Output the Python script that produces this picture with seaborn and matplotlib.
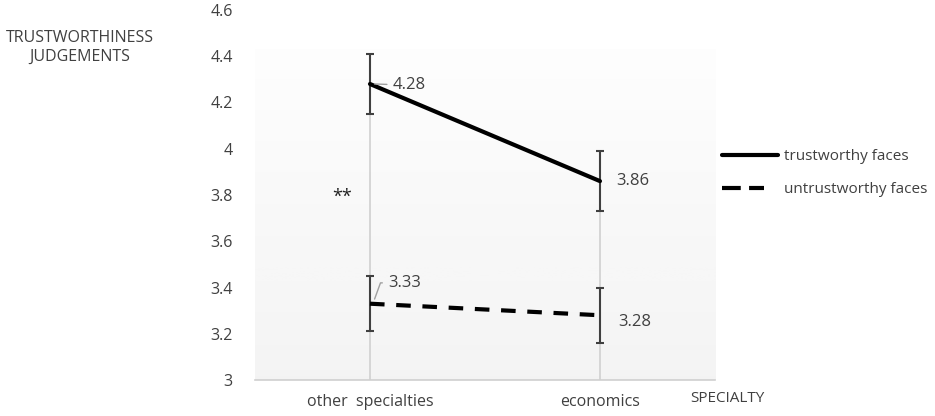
import numpy as np
import pandas as pd
import seaborn as sns
import matplotlib.pyplot as plt

# data
specialties = ['other  specialties', 'economics']
trustworthy = [4.28, 3.86]
untrustworthy = [3.33, 3.28]
trust_err = [0.13, 0.13]
untrust_err = [0.12, 0.12]
series_names = ['trustworthy faces', 'untrustworthy faces']
yticks = [3, 3.2, 3.4, 3.6, 3.8, 4, 4.2, 4.4, 4.6]
ytick_labels = ['3', '3.2', '3.4', '3.6', '3.8', '4', '4.2', '4.4', '4.6']

sns.set_style('white')
plt.rcParams['font.family'] = ['Open Sans', 'DejaVu Sans']

df = pd.DataFrame({
    'x': [0, 1, 0, 1],
    'y': trustworthy + untrustworthy,
    'err': trust_err + untrust_err,
    'face': [series_names[0]] * 2 + [series_names[1]] * 2,
})

fig = plt.figure(figsize=(9.35, 4.16), dpi=100)
ax = fig.add_axes([0.2727, 0.0865, 0.492, 0.8895])

# background gradient, very light on top to light gray at bottom
grad = np.linspace(0, 1, 256).reshape(-1, 1)
ax.imshow(grad, extent=[-0.5, 1.5, 3, 4.43], aspect='auto', cmap='Greys',
          vmin=-0.15, vmax=12, origin='upper', zorder=0)

# drop lines from the top series down to the axis
ax.vlines([0, 1], 3, trustworthy, color='#d0d0d0', lw=1.2, zorder=1)

sns.lineplot(data=df, x='x', y='y', style='face', color='black', lw=3,
             dashes={series_names[0]: '', series_names[1]: (3.5, 2.8)},
             legend=False, ax=ax, zorder=3)

for name, grp in df.groupby('face'):
    ax.errorbar(grp['x'], grp['y'], yerr=grp['err'], fmt='none',
                ecolor='#404040', elinewidth=1.5, capsize=3, capthick=1.5, zorder=2)

lab = dict(fontsize=12, color='#404040', va='center')
ax.annotate(f'{trustworthy[0]:.2f}', xy=(0.02, trustworthy[0]), xytext=(0.1, trustworthy[0] - 0.005),
            arrowprops=dict(arrowstyle='-', color='#a0a0a0', lw=1, shrinkA=2, shrinkB=0), **lab)
ax.text(1.07, trustworthy[1], f'{trustworthy[1]:.2f}', **lab)
ax.annotate(f'{untrustworthy[0]:.2f}', xy=(0.02, untrustworthy[0] + 0.02), xytext=(0.08, untrustworthy[0] + 0.09),
            arrowprops=dict(arrowstyle='-', color='#a0a0a0', lw=1, shrinkA=2, shrinkB=0,
                            connectionstyle='angle,angleA=0,angleB=70,rad=0'), **lab)
ax.text(1.08, untrustworthy[1] - 0.03, f'{untrustworthy[1]:.2f}', **lab)
ax.text(-0.12, 3.79, '**', fontsize=13, color='#202020', ha='center', va='center')

ax.set_xlim(-0.5, 1.5)
ax.set_ylim(3, 4.6)
ax.set_yticks(yticks)
ax.set_yticklabels(ytick_labels)
ax.set_xticks([0, 1])
ax.set_xticklabels(specialties)
ax.tick_params(axis='both', length=0, labelsize=11.5, labelcolor='#404040')
ax.tick_params(axis='y', pad=16)
ax.tick_params(axis='x', pad=10)
ax.set_xlabel('')
ax.set_ylabel('')
for s in ['top', 'right', 'left']:
    ax.spines[s].set_visible(False)
ax.spines['bottom'].set_color('#d0d0d0')
ax.spines['bottom'].set_linewidth(1.2)

fig.text(0.085, 0.886, 'TRUSTWORTHINESS\nJUDGEMENTS', ha='center', va='center',
         fontsize=11.5, color='#404040', linespacing=1.2)
fig.text(0.738, 0.043, 'SPECIALTY', ha='left', va='center', fontsize=11, color='#404040')

# legend drawn at right
fig.lines.append(plt.Line2D([0.772, 0.832], [1 - 155 / 416] * 2, transform=fig.transFigure,
                            color='black', lw=3))
fig.lines.append(plt.Line2D([0.772, 0.817], [1 - 188 / 416] * 2, transform=fig.transFigure,
                            color='black', lw=3, dashes=(4.5, 2)))
fig.text(0.838, 1 - 157 / 416, series_names[0], va='center', fontsize=11, color='#404040')
fig.text(0.838, 1 - 189 / 416, series_names[1], va='center', fontsize=11, color='#404040')

fig.savefig('out.png', dpi=100)
